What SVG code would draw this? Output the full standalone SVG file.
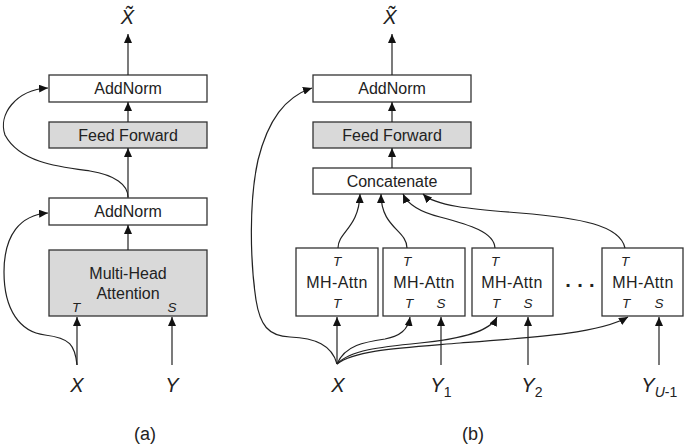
<svg xmlns="http://www.w3.org/2000/svg" width="685" height="444" viewBox="0 0 685 444">
<defs>
<style>
.box{fill:#fff;stroke:#333;stroke-width:1.3}
.gray{fill:#d9d9d9}
.lbl{font-family:"Liberation Sans",Arial,sans-serif;font-size:16px;fill:#222;text-anchor:middle}
.io{font-family:"Liberation Sans",Arial,sans-serif;font-size:13.5px;font-style:italic;fill:#222;text-anchor:middle}
.var{font-family:"Liberation Sans",Arial,sans-serif;font-size:20px;font-style:italic;fill:#222}
.cap{font-family:"Liberation Sans",Arial,sans-serif;font-size:18px;fill:#222;text-anchor:middle}
.ln{fill:none;stroke:#222;stroke-width:1.2;marker-end:url(#ah)}
</style>
<marker id="ah" markerUnits="userSpaceOnUse" markerWidth="10" markerHeight="8" refX="9" refY="4" orient="auto">
<path d="M0,0 L9,4 L0,8 Z" fill="#111"/>
</marker>
</defs>
<rect width="685" height="444" fill="#fff"/>

<!-- Panel (a) -->
<g id="a-addnorm-top"><rect class="box" x="49" y="75" width="158" height="27"/><text class="lbl" x="128" y="94">AddNorm</text></g>
<g id="a-ff"><rect class="box gray" x="49" y="122" width="158" height="26"/><text class="lbl" x="128" y="141">Feed Forward</text></g>
<g id="a-addnorm-low"><rect class="box" x="49" y="198" width="158" height="27"/><text class="lbl" x="128" y="217">AddNorm</text></g>
<g id="a-mha"><rect class="box gray" x="49" y="250" width="158" height="66"/><text class="lbl" x="128" y="279">Multi-Head</text><text class="lbl" x="128" y="299">Attention</text><text class="io" x="76" y="311.5">T</text><text class="io" x="172" y="311.5">S</text></g>
<g id="a-xtilde"><text class="var" x="127.5" y="23.5" text-anchor="middle">X&#x303;</text></g>
<g id="a-x"><text class="var" x="77" y="392" text-anchor="middle">X</text></g>
<g id="a-y"><text class="var" x="172" y="392" text-anchor="middle">Y</text></g>
<text class="cap" x="145" y="440">(a)</text>

<!-- Panel (b) -->
<g id="b-addnorm"><rect class="box" x="313" y="75" width="158" height="27"/><text class="lbl" x="392" y="94">AddNorm</text></g>
<g id="b-ff"><rect class="box gray" x="313" y="122" width="158" height="26"/><text class="lbl" x="392" y="141">Feed Forward</text></g>
<g id="b-concat"><rect class="box" x="313" y="168" width="158" height="26"/><text class="lbl" x="392" y="186.5">Concatenate</text></g>
<g id="b-mh1"><rect class="box" x="296" y="248" width="82" height="68"/><text class="io" x="337" y="266">T</text><text class="lbl" x="337" y="287.5" letter-spacing="0.4">MH-Attn</text><text class="io" x="337" y="308">T</text></g>
<g id="b-mh2"><rect class="box" x="383" y="248" width="82" height="68"/><text class="io" x="407" y="266">T</text><text class="lbl" x="424" y="287.5" letter-spacing="0.4">MH-Attn</text><text class="io" x="409" y="308">T</text><text class="io" x="441" y="308">S</text></g>
<g id="b-mh3"><rect class="box" x="472" y="248" width="81" height="68"/><text class="io" x="495" y="266">T</text><text class="lbl" x="512" y="287.5" letter-spacing="0.4">MH-Attn</text><text class="io" x="496" y="308">T</text><text class="io" x="528" y="308">S</text></g>
<g id="b-mh4"><rect class="box" x="602" y="248" width="81" height="68"/><text class="io" x="625" y="266">T</text><text class="lbl" x="643" y="287.5" letter-spacing="0.4">MH-Attn</text><text class="io" x="626" y="308">T</text><text class="io" x="659" y="308">S</text></g>
<text x="565.2" y="287" font-family="Liberation Sans,sans-serif" font-size="20" font-weight="bold" fill="#222" letter-spacing="6.4">...</text>
<g id="b-xtilde"><text class="var" x="390" y="24" text-anchor="middle">X&#x303;</text></g>
<g id="b-x"><text class="var" x="338" y="392" text-anchor="middle">X</text></g>
<g id="b-y1"><text class="var" x="430.3" y="392">Y<tspan font-style="normal" font-size="14" y="397">1</tspan></text></g>
<g id="b-y2"><text class="var" x="521.3" y="392">Y<tspan font-style="normal" font-size="14" y="397">2</tspan></text></g>
<g id="b-yu"><text class="var" x="641.3" y="392">Y<tspan font-size="14" y="397">U</tspan><tspan font-style="normal" font-size="14">-1</tspan></text></g>
<text class="cap" x="473" y="440">(b)</text>

<g id="connectors">
<!-- (a) -->
<path class="ln" d="M128,75 L128,34"/>
<path class="ln" d="M128,122 L128,102"/>
<path class="ln" d="M128,198 L128,148"/>
<path class="ln" d="M128,250 L128,225"/>
<path class="ln" d="M128,197 C128,185 115,175 90,171 C60,167 20,163 5,135 C-2,115 15,90 48,88"/>
<path class="ln" d="M77,365 L77,317"/>
<path class="ln" d="M172,365 L172,317"/>
<path class="ln" d="M77,365 C75,345 70,338 45,335 C20,332 4,310 4,272 C4,235 20,215 48,213"/>
<!-- (b) -->
<path class="ln" d="M392,75 L392,34"/>
<path class="ln" d="M392,122 L392,102"/>
<path class="ln" d="M392,168 L392,148"/>
<path class="ln" d="M338,248 C338,232 359,228 360,194"/>
<path class="ln" d="M407,248 C407,230 381,228 381,194"/>
<path class="ln" d="M495,248 C494,232 470,225 440,217 C420,212 408,205 403,194"/>
<path class="ln" d="M625,248 C620,225 580,218 520,213 C470,209 435,206 423,194"/>
<path class="ln" d="M337,364 L337,317"/>
<path class="ln" d="M337,364 C345,345 365,342 385,339 C400,336 408,330 410,317"/>
<path class="ln" d="M337,364 C350,350 380,347 420,343 C460,339 490,332 497,317"/>
<path class="ln" d="M337,364 C355,350 400,348 460,343 C540,337 600,333 628,317"/>
<path class="ln" d="M337,364 C332,345 315,338 290,337 C268,336 260,325 256,300 C250,260 249,200 258,160 C268,120 285,97 312,88"/>
<path class="ln" d="M441,365 L441,317"/>
<path class="ln" d="M528,365 L528,317"/>
<path class="ln" d="M659,365 L659,317"/>
</g>
</svg>
